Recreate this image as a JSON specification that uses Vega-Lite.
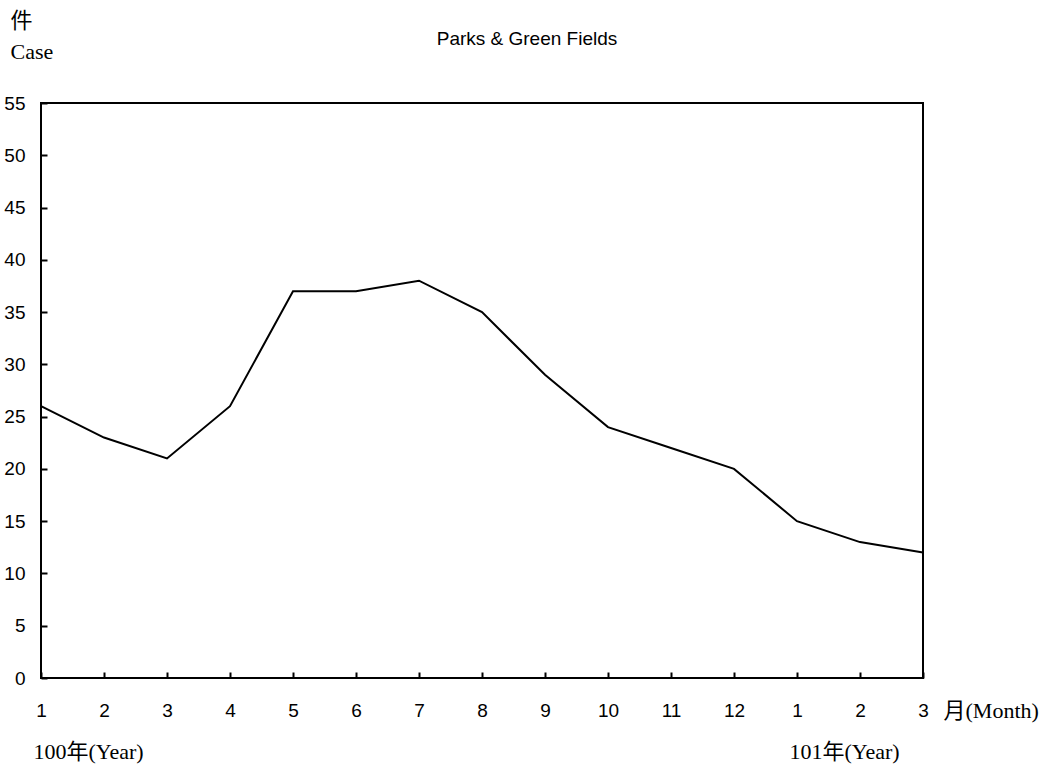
{
  "$schema": "https://vega.github.io/schema/vega-lite/v6.json",
  "width": 882,
  "height": 575,
  "autosize": {"type": "none"},
  "padding": {"left": 41, "top": 103, "right": 124, "bottom": 92},
  "background": "white",
  "config": {
    "view": {"stroke": "black", "strokeWidth": 2},
    "axis": {"grid": false, "domain": false}
  },
  "title": {
    "text": "Parks & Green Fields",
    "anchor": "middle",
    "frame": "group",
    "dx": 45,
    "offset": 0,
    "dy": 40,
    "font": "Liberation Sans",
    "fontSize": 19,
    "fontWeight": "normal",
    "color": "black"
  },
  "data": {
    "values": [
      {"i": 1, "cases": 26},
      {"i": 2, "cases": 23},
      {"i": 3, "cases": 21},
      {"i": 4, "cases": 26},
      {"i": 5, "cases": 37},
      {"i": 6, "cases": 37},
      {"i": 7, "cases": 38},
      {"i": 8, "cases": 35},
      {"i": 9, "cases": 29},
      {"i": 10, "cases": 24},
      {"i": 11, "cases": 22},
      {"i": 12, "cases": 20},
      {"i": 13, "cases": 15},
      {"i": 14, "cases": 13},
      {"i": 15, "cases": 12}
    ]
  },
  "layer": [
    {
      "mark": {"type": "line", "color": "black", "strokeWidth": 2},
      "encoding": {
        "x": {
          "field": "i",
          "type": "ordinal",
          "scale": {"type": "point", "padding": 0},
          "axis": {
            "orient": "bottom",
            "labelAngle": 0,
            "labelExpr": "datum.value > 12 ? datum.value - 12 : datum.value",
            "labelFont": "Liberation Sans",
            "labelFontSize": 19,
            "labelColor": "black",
            "tickColor": "black",
            "tickSize": -6,
            "tickWidth": 2,
            "labelPadding": 29,
            "title": "月(Month)",
            "titleFont": "Liberation Serif, Noto Sans CJK TC",
            "titleFontSize": 22,
            "titleFontWeight": "normal",
            "titleColor": "black",
            "titleAlign": "left",
            "titleBaseline": "middle",
            "titleX": 902,
            "titleY": 32
          }
        },
        "y": {
          "field": "cases",
          "type": "quantitative",
          "scale": {"domain": [0, 55], "nice": false},
          "axis": {
            "values": [0, 5, 10, 15, 20, 25, 30, 35, 40, 45, 50, 55],
            "labelFont": "Liberation Sans",
            "labelFontSize": 19,
            "labelColor": "black",
            "tickColor": "black",
            "tickSize": -6,
            "tickWidth": 2,
            "labelPadding": 22,
            "title": ["件", "Case"],
            "titleFont": "Liberation Serif, Noto Sans CJK TC",
            "titleFontSize": 22,
            "titleFontWeight": "normal",
            "titleColor": "black",
            "titleAngle": 0,
            "titleAlign": "left",
            "titleBaseline": "top",
            "titleLineHeight": 31,
            "titleX": -31,
            "titleY": -93
          }
        }
      }
    },
    {
      "mark": {"type": "line", "strokeOpacity": 0},
      "encoding": {
        "x": {
          "field": "i",
          "type": "ordinal",
          "axis": {
            "orient": "bottom",
            "offset": 55,
            "values": [1, 13],
            "ticks": false,
            "domain": false,
            "labelAngle": 0,
            "labelAlign": "left",
            "labelOffset": -8,
            "labelExpr": "datum.value == 1 ? '100年(Year)' : '101年(Year)'",
            "labelFont": "Liberation Serif, Noto Sans CJK TC",
            "labelFontSize": 22,
            "labelColor": "black",
            "labelPadding": 8,
            "title": null
          }
        },
        "y": {"field": "cases", "type": "quantitative"}
      }
    }
  ],
  "resolve": {"axis": {"x": "independent"}}
}
